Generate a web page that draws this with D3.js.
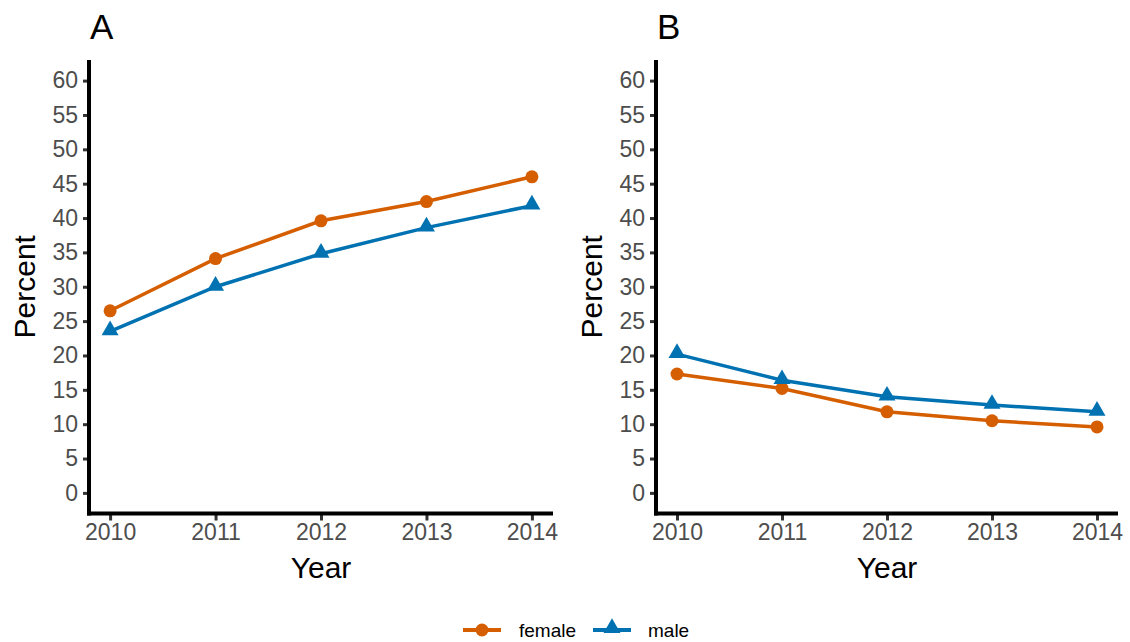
<!DOCTYPE html>
<html>
<head>
<meta charset="utf-8">
<script src="https://cdn.jsdelivr.net/npm/d3@7"></script>
<style>
  html, body { margin: 0; padding: 0; background: #ffffff; }
  svg { display: block; font-family: "Liberation Sans", Arial, sans-serif; }
</style>
</head>
<body>
<svg id="chart" width="1130" height="642"></svg>
<script>
const years = [2010, 2011, 2012, 2013, 2014];
const yTicks = [0, 5, 10, 15, 20, 25, 30, 35, 40, 45, 50, 55, 60];
const seriesNames = ["female", "male"];
const seriesColors = ["#D55E00", "#0072B2"];
const panelLabels = ["A", "B"];
const femaleA = [26.5, 34.1, 39.6, 42.4, 46.0];
const maleA   = [23.5, 30.0, 34.8, 38.6, 41.8];
const femaleB = [17.3, 15.2, 11.8, 10.5, 9.6];
const maleB   = [20.2, 16.4, 14.0, 12.8, 11.8];

const panels = [
  { label: panelLabels[0], left: 89, right: 553, series: [femaleA, maleA] },
  { label: panelLabels[1], left: 656, right: 1118, series: [femaleB, maleB] }
];

const svg = d3.select("#chart");
const plotTop = 60, plotBottom = 513.5;
const y = d3.scaleLinear().domain([-3, 63]).range([plotBottom, plotTop]);

const triangle = d3.symbol().type(d3.symbolTriangle).size(125);

panels.forEach(p => {
  const x = d3.scaleLinear().domain([2009.8, 2014.2]).range([p.left, p.right]);
  const g = svg.append("g");

  // Y axis
  const yAxis = g.append("g").attr("transform", `translate(${p.left},0)`)
    .call(d3.axisLeft(y).tickValues(yTicks).tickSize(6).tickPadding(5).tickFormat(d3.format("d")));
  yAxis.select(".domain").remove();
  yAxis.selectAll(".tick line").attr("stroke", "#333333").attr("stroke-width", 3);
  yAxis.selectAll(".tick text").attr("fill", "#4d4d4d").style("font-size", "23px");

  // X axis
  const xAxis = g.append("g").attr("transform", `translate(0,${plotBottom})`)
    .call(d3.axisBottom(x).tickValues(years).tickSize(7).tickPadding(3).tickFormat(d3.format("d")));
  xAxis.select(".domain").remove();
  xAxis.selectAll(".tick line").attr("stroke", "#333333").attr("stroke-width", 3);
  xAxis.selectAll(".tick text").attr("fill", "#4d4d4d").style("font-size", "23px");

  // axis lines
  g.append("line").attr("x1", p.left).attr("x2", p.left).attr("y1", plotTop).attr("y2", plotBottom + 2)
    .attr("stroke", "#000").attr("stroke-width", 4);
  g.append("line").attr("x1", p.left - 2).attr("x2", p.right).attr("y1", plotBottom).attr("y2", plotBottom)
    .attr("stroke", "#000").attr("stroke-width", 4);

  // titles
  g.append("text").attr("x", (p.left + p.right) / 2).attr("y", 578)
    .attr("text-anchor", "middle").style("font-size", "30px").attr("fill", "#000").text("Year");
  g.append("text").attr("transform", `translate(${p.left - 54},${(plotTop + plotBottom) / 2}) rotate(-90)`)
    .attr("text-anchor", "middle").style("font-size", "30px").attr("fill", "#000").text("Percent");
  g.append("text").attr("x", p.left + 1).attr("y", 39)
    .style("font-size", "35px").attr("fill", "#000").text(p.label);

  // lines and points
  const line = d3.line().x((d, i) => x(years[i])).y(d => y(d));
  p.series.forEach((vals, si) => {
    g.append("path").datum(vals).attr("d", line).attr("fill", "none")
      .attr("stroke", seriesColors[si]).attr("stroke-width", 3.5);
  });
  p.series.forEach((vals, si) => {
    if (si === 0) {
      g.selectAll(null).data(vals).enter().append("circle")
        .attr("cx", (d, i) => x(years[i])).attr("cy", d => y(d)).attr("r", 6.5)
        .attr("fill", seriesColors[si]);
    } else {
      g.selectAll(null).data(vals).enter().append("path")
        .attr("d", triangle)
        .attr("transform", (d, i) => `translate(${x(years[i])},${y(d) - 1})`)
        .attr("fill", seriesColors[si]);
    }
  });
});

// legend
const legend = svg.append("g");
const legendItems = [
  { x0: 463, tx: 519 },
  { x0: 593, tx: 648 }
];
seriesNames.forEach((name, i) => {
  const it = legendItems[i];
  const ly = 630;
  legend.append("line").attr("x1", it.x0).attr("x2", it.x0 + 38).attr("y1", ly).attr("y2", ly)
    .attr("stroke", seriesColors[i]).attr("stroke-width", 4);
  if (i === 0) {
    legend.append("circle").attr("cx", it.x0 + 19).attr("cy", ly).attr("r", 6.5).attr("fill", seriesColors[i]);
  } else {
    legend.append("path").attr("d", triangle).attr("transform", `translate(${it.x0 + 19},${ly - 2})`)
      .attr("fill", seriesColors[i]);
  }
  legend.append("text").attr("x", it.tx).attr("y", ly + 7).style("font-size", "19px")
    .attr("fill", "#000").text(name);
});
</script>
</body>
</html>
